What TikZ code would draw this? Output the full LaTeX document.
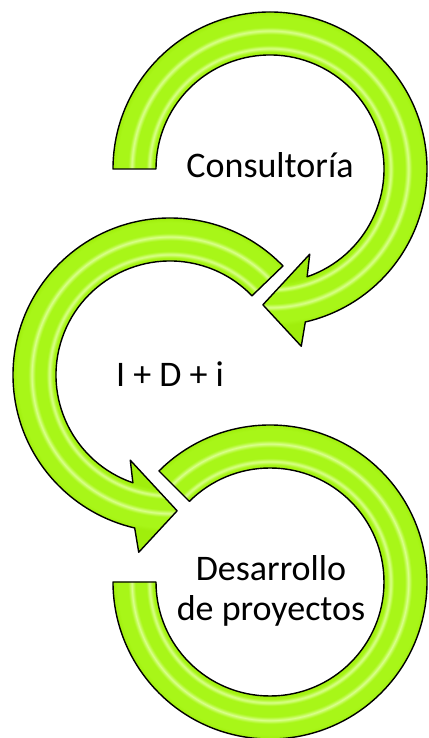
\documentclass[tikz,border=0pt]{standalone}
\usepackage{fontspec}
\setmainfont{Carlito}
\usepackage{tikz}

\definecolor{arrowgreen}{RGB}{168,246,24}
\definecolor{arrowedge}{RGB}{160,238,12}
\definecolor{arrowshine}{RGB}{218,255,140}

\pgfdeclareradialshading{gloss}{\pgfpoint{0bp}{0bp}}{%
  color(0bp)=(arrowedge); color(15.85bp)=(arrowedge);
  color(16.3bp)=(arrowgreen); color(16.75bp)=(arrowshine);
  color(17.2bp)=(arrowgreen); color(18.7bp)=(arrowgreen);
  color(19.2bp)=(arrowshine); color(19.7bp)=(arrowgreen);
  color(21.2bp)=(arrowgreen); color(21.8bp)=(arrowedge);
  color(50bp)=(arrowedge)}

\begin{document}
\begin{tikzpicture}[x=1pt,y=1pt,
  band/.style={draw=black,line width=1.4pt,line join=round,fill=arrowgreen,
    path picture={\shade[shading=gloss] (0,0) circle (180);}},
  lbl/.style={font=\fontsize{36}{40}\selectfont,align=center}]
\useasboundingbox (0,0) rectangle (428,738);

\begin{scope}[shift={(270,569)}]
  \draw[band] (180:157) arc[start angle=180,end angle=-77,radius=157]
    -- (-80:180) -- (-93:136) -- (-65:94) -- (-71:114)
    arc[start angle=-71,end angle=180,radius=114] -- cycle;
\end{scope}

\begin{scope}[shift={(170,363)}]
  \draw[band] (44:157) arc[start angle=44,end angle=257,radius=157]
    -- (260:180) -- (273:136) -- (245:94) -- (251:114)
    arc[start angle=251,end angle=44,radius=114] -- cycle;
\end{scope}

\begin{scope}[shift={(270,156)}]
  \draw[band] (135:157) arc[start angle=135,end angle=-180,radius=157]
    -- (180:114) arc[start angle=-180,end angle=135,radius=114] -- cycle;
\end{scope}

\draw (270,560) node[lbl,anchor=base] (consultoria) {Consultoría};
\draw (170,351) node[lbl,anchor=base] (idi) {I + D + i};
\draw (271,147) node[lbl] (desarrollo) {Desarrollo\\de proyectos};

\end{tikzpicture}
\end{document}
